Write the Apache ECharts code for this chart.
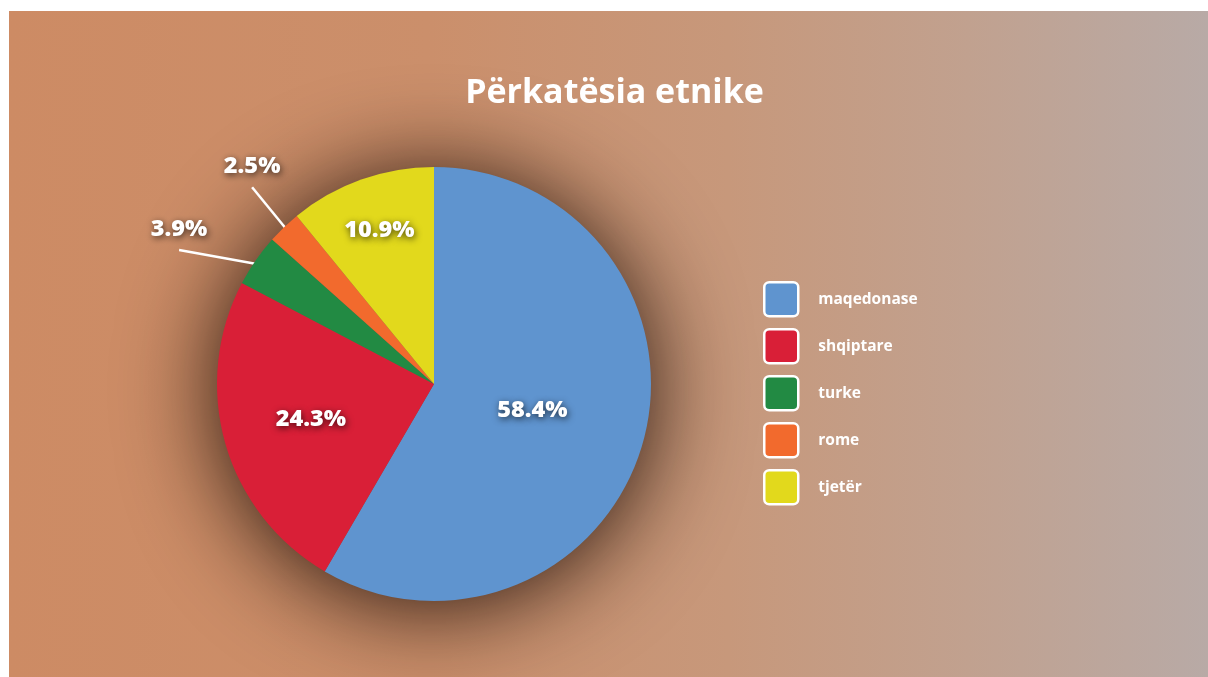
<!DOCTYPE html>
<html>
<head>
<meta charset="utf-8">
<script src="https://cdn.jsdelivr.net/npm/echarts@6/dist/echarts.min.js"></script>
<style>
  html, body { margin: 0; padding: 0; background: #ffffff; width: 1208px; height: 677px; overflow: hidden; }
  #chart {
    position: absolute; left: 9px; top: 11px; width: 1199px; height: 666px;
    background: linear-gradient(to right, #cd8b64 0%, #cb8f6b 35%, #c7987b 60%, #c1a18f 80%, #b8aaa6 100%);
  }
</style>
</head>
<body>
<div id="chart"></div>
<script>
// ---- data ----
const titleText = 'Përkatësia etnike';
const categories = ['maqedonase', 'shqiptare', 'turke', 'rome', 'tjetër'];
const values = [58.4, 24.3, 3.9, 2.5, 10.9];
const colors = ['#5f94cf', '#d91f37', '#228a43', '#f26a2d', '#e2d91c'];
const outsideLabel = [false, false, true, true, false];

// ---- layout ----
const CX = 425, CY = 373, R = 217;
const insideRadius = [0.47, 0.59, 0, 0, 0.75];   // fraction of R for inner labels
const outerLine = { 2: { r: 288, da: 7 }, 3: { r: 268, da: -1 } };

const total = values.reduce((a, b) => a + b, 0);
function midAngle(i) {
  let before = 0;
  for (let k = 0; k < i; k++) before += values[k];
  return (90 - (before + values[i] / 2) / total * 360) * Math.PI / 180;
}

const chart = echarts.init(document.getElementById('chart'), null, { renderer: 'canvas' });

const labelFont = {
  color: '#ffffff',
  fontFamily: 'Open Sans',
  fontWeight: 800,
  fontSize: 23.5,
  textShadowColor: 'rgba(0,0,0,0.7)',
  textShadowBlur: 7,
  textShadowOffsetX: 1,
  textShadowOffsetY: 2
};

const pieData = categories.map((name, i) => ({
  name: name,
  value: values[i],
  itemStyle: { color: colors[i] },
  label: outsideLabel[i] ? { position: 'outside' } : { position: 'inside' },
  labelLine: { show: outsideLabel[i] }
}));

chart.setOption({
  backgroundColor: 'transparent',
  animation: false,
  title: {
    text: titleText,
    left: 600.5,
    top: 60,
    textAlign: 'center',
    textStyle: { color: '#ffffff', fontFamily: 'Open Sans', fontWeight: 700, fontSize: 34 }
  },
  legend: {
    orient: 'vertical',
    left: 754,
    top: 270,
    padding: 0,
    itemWidth: 34,
    itemHeight: 34,
    itemGap: 10.5,
    data: categories,
    icon: 'path://M5,0H29A5,5 0 0 1 34,5V29A5,5 0 0 1 29,34H5A5,5 0 0 1 0,29V5A5,5 0 0 1 5,0Z',
    itemStyle: { borderColor: '#ffffff', borderWidth: 2.5, shadowBlur: 0 },
    textStyle: { color: '#ffffff', fontFamily: 'Open Sans', fontWeight: 700, fontSize: 15.5, padding: [0, 0, 0, 15] },
    selectedMode: false
  },
  series: [
    {
      type: 'pie',
      name: 'shadow',
      silent: true,
      z: 1,
      center: [CX, CY],
      radius: R - 1,
      startAngle: 90,
      label: { show: false },
      labelLine: { show: false },
      emphasis: { disabled: true },
      itemStyle: {
        color: '#7a5646',
        shadowBlur: 95,
        shadowColor: 'rgba(25,12,5,0.95)',
        shadowOffsetX: 0,
        shadowOffsetY: 6
      },
      data: [{ name: '_bg', value: 1 }]
    },
    {
      type: 'pie',
      name: 'Përkatësia etnike',
      z: 2,
      center: [CX, CY],
      radius: R,
      startAngle: 90,
      clockwise: true,
      avoidLabelOverlap: false,
      emphasis: { disabled: true },
      itemStyle: { borderWidth: 0 },
      label: Object.assign({
        show: true,
        formatter: p => p.value.toFixed(1) + '%'
      }, labelFont),
      labelLine: {
        show: true,
        length: 50,
        length2: 0,
        lineStyle: { color: '#ffffff', width: 2.5 }
      },
      labelLayout: function (params) {
        const i = params.dataIndex;
        const a = midAngle(i);
        if (!outsideLabel[i]) {
          const rr = insideRadius[i] * R;
          return { x: CX + rr * Math.cos(a), y: CY - rr * Math.sin(a), align: 'center', verticalAlign: 'middle' };
        }
        const cfg = outerLine[i];
        const a2 = a + cfg.da * Math.PI / 180;
        const p0 = [CX + (R - 8) * Math.cos(a), CY - (R - 8) * Math.sin(a)];
        const p1 = [CX + cfg.r * Math.cos(a2), CY - cfg.r * Math.sin(a2)];
        return {
          x: p1[0], y: p1[1] - 21, align: 'center', verticalAlign: 'middle',
          labelLinePoints: [p0, p1, p1]
        };
      },
      data: pieData
    }
  ]
});
</script>
</body>
</html>
